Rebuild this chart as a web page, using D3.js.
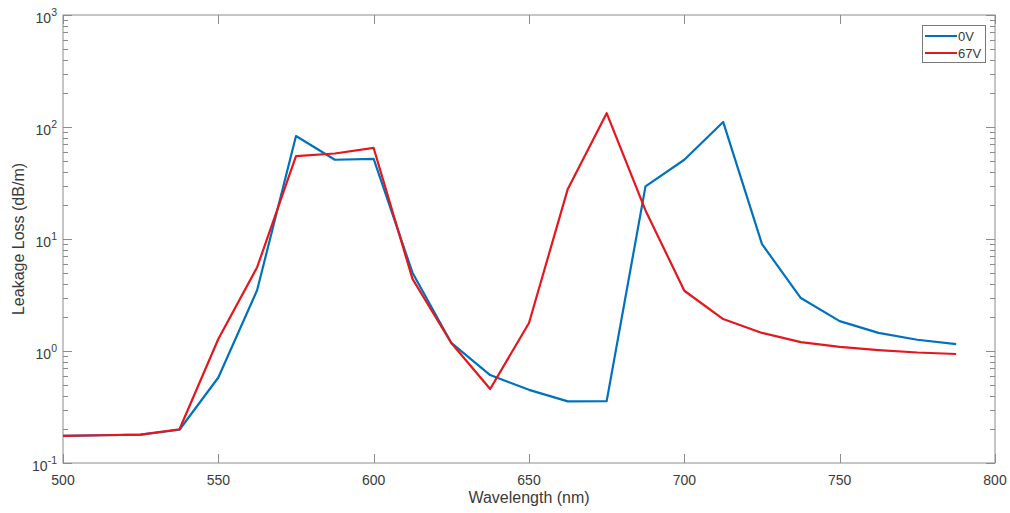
<!DOCTYPE html>
<html><head><meta charset="utf-8">
<script src="https://cdn.jsdelivr.net/npm/d3@7"></script>
<style>body{margin:0;background:#fff}svg{display:block}text{font-family:"Liberation Sans",Arial,sans-serif;fill:#3a3a3a}</style>
</head><body><svg id="c" width="1010" height="513"></svg>
<script>
const wavelengths = [500,512.5,525,537.5,550,562.5,575,587.5,600,612.5,625,637.5,650,662.5,675,687.5,700,712.5,725,737.5,750,762.5,775,787.5];
const loss0V  = [0.175,0.177,0.179,0.198,0.58,3.5,83,51,52,5.0,1.18,0.61,0.45,0.355,0.357,29.5,51,111,9.0,2.97,1.85,1.45,1.26,1.15];
const loss67V = [0.175,0.177,0.179,0.200,1.28,5.6,55,58,65,4.4,1.18,0.458,1.78,28,133,18,3.45,1.93,1.45,1.2,1.09,1.02,0.97,0.94];
const seriesNames = ["0V","67V"];
const xTicks = [500,550,600,650,700,750,800];
const yTickExps = [-1,0,1,2,3];

const colors = ["#0072BD","#E3171D"];
const svg = d3.select("#c");
const L=63,R=995,T=15,B=463;
const x = d3.scaleLinear().domain([500,800]).range([L,R]);
const y = d3.scaleLog().domain([0.1,1000]).range([B,T]);
const axisColor="#8c8c8c";

svg.append("rect").attr("x",L).attr("y",T).attr("width",R-L).attr("height",B-T)
  .attr("fill","none").attr("stroke",axisColor).attr("stroke-width",1);

const g = svg.append("g").attr("stroke",axisColor).attr("stroke-width",1);
xTicks.forEach(v=>{
  const px=Math.round(x(v))+0.5;
  g.append("line").attr("x1",px).attr("x2",px).attr("y1",B).attr("y2",B-9);
  g.append("line").attr("x1",px).attr("x2",px).attr("y1",T).attr("y2",T+9);
  svg.append("text").attr("x",x(v)).attr("y",485).attr("text-anchor","middle").attr("font-size",14).text(v);
});
yTickExps.forEach(e=>{
  const py=Math.round(y(Math.pow(10,e)))+0.5;
  g.append("line").attr("x1",L).attr("x2",L+9).attr("y1",py).attr("y2",py);
  g.append("line").attr("x1",R).attr("x2",R-9).attr("y1",py).attr("y2",py);
  const t=svg.append("text").attr("x",57).attr("y",y(Math.pow(10,e))+8).attr("text-anchor","end").attr("font-size",14);
  t.append("tspan").text("10");
  t.append("tspan").attr("dy",-7).attr("font-size",10.5).text(String(e));
  if(e<3){
    for(let m=2;m<=9;m++){
      const pm=Math.round(y(m*Math.pow(10,e)))+0.5;
      g.append("line").attr("x1",L).attr("x2",L+5).attr("y1",pm).attr("y2",pm);
      g.append("line").attr("x1",R).attr("x2",R-5).attr("y1",pm).attr("y2",pm);
    }
  }
});

svg.append("text").attr("x",(L+R)/2).attr("y",503).attr("text-anchor","middle").attr("font-size",16).text("Wavelength (nm)");
svg.append("text").attr("transform",`translate(24,${(T+B)/2}) rotate(-90)`).attr("text-anchor","middle").attr("font-size",16).text("Leakage Loss (dB/m)");

const line = d3.line().x((d,i)=>x(wavelengths[i])).y(d=>y(d));
[loss0V,loss67V].forEach((s,k)=>{
  svg.append("path").datum(s).attr("d",line).attr("fill","none").attr("stroke",colors[k]).attr("stroke-width",2.2).attr("stroke-linejoin","round");
});

const lg = svg.append("g");
lg.append("rect").attr("x",922.5).attr("y",25.5).attr("width",63).attr("height",37).attr("fill","#fff").attr("stroke","#7a7a7a");
seriesNames.forEach((n,i)=>{
  const ly=36+i*17;
  lg.append("line").attr("x1",925).attr("x2",957).attr("y1",ly).attr("y2",ly).attr("stroke",colors[i]).attr("stroke-width",2);
  lg.append("text").attr("x",958).attr("y",ly+4.5).attr("font-size",13).text(n);
});
</script></body></html>
